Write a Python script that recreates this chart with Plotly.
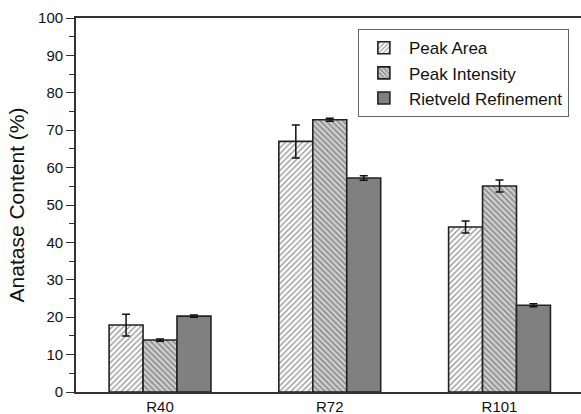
import plotly.graph_objects as go

# Sample categories and measured anatase content (%) with standard deviations
samples = ["R40", "R72", "R101"]

peak_area = [17.9, 67.0, 44.1]
peak_area_err = [2.9, 4.4, 1.6]

peak_intensity = [13.9, 72.8, 55.1]
peak_intensity_err = [0.3, 0.4, 1.6]

rietveld = [20.3, 57.2, 23.2]
rietveld_err = [0.3, 0.6, 0.4]

y_ticks = [0, 10, 20, 30, 40, 50, 60, 70, 80, 90, 100]

font_family = "Liberation Sans, Arial, sans-serif"
ink = "#111111"

err_style = dict(type="data", color=ink, thickness=1.5, width=4)
outline = dict(color="#222222", width=1.6)

fig = go.Figure()
fig.add_trace(go.Bar(
    name="Peak Area", x=samples, y=peak_area,
    error_y=dict(array=peak_area_err, **err_style),
    marker=dict(color="white", line=outline,
                pattern=dict(shape="/", fgcolor="#333333", bgcolor="white",
                             size=4, solidity=0.35, fillmode="overlay")),
))
fig.add_trace(go.Bar(
    name="Peak Intensity", x=samples, y=peak_intensity,
    error_y=dict(array=peak_intensity_err, **err_style),
    marker=dict(color="#cfcfcf", line=outline,
                pattern=dict(shape="\\", fgcolor="#333333", bgcolor="#cfcfcf",
                             size=4, solidity=0.35, fillmode="overlay")),
))
fig.add_trace(go.Bar(
    name="Rietveld Refinement", x=samples, y=rietveld,
    error_y=dict(array=rietveld_err, **err_style),
    marker=dict(color="#808080", line=outline),
))

fig.update_layout(
    width=581, height=414,
    margin=dict(l=76, r=0, t=18, b=22),
    paper_bgcolor="white", plot_bgcolor="white",
    barmode="group", bargap=0.4, bargroupgap=0.0,
    font=dict(family=font_family, size=14, color=ink),
    showlegend=True,
    legend=dict(
        x=0.976, y=0.97, xanchor="right", yanchor="top",
        bordercolor="#666666", borderwidth=1, bgcolor="white",
        font=dict(size=17, color=ink), tracegroupgap=0,
        itemwidth=40,
    ),
)

fig.update_xaxes(
    range=[-0.495, 2.48],
    showline=True, linecolor="#333333", linewidth=1.8, mirror=True,
    ticks="", showgrid=False, zeroline=False,
    tickfont=dict(size=15, color=ink),
)
fig.update_yaxes(
    range=[0, 100], tickvals=y_ticks,
    showline=True, linecolor="#333333", linewidth=1.8, mirror=False,
    ticks="outside", ticklen=8, tickwidth=1.3, tickcolor="#333333",
    minor=dict(dtick=5, ticks="outside", ticklen=5, tickwidth=1.3, tickcolor="#333333"),
    showgrid=False, zeroline=False,
    tickfont=dict(size=15, color=ink),
    title=dict(text="Anatase Content (%)", font=dict(size=21, color=ink), standoff=8),
)

fig.write_html("out.html")
